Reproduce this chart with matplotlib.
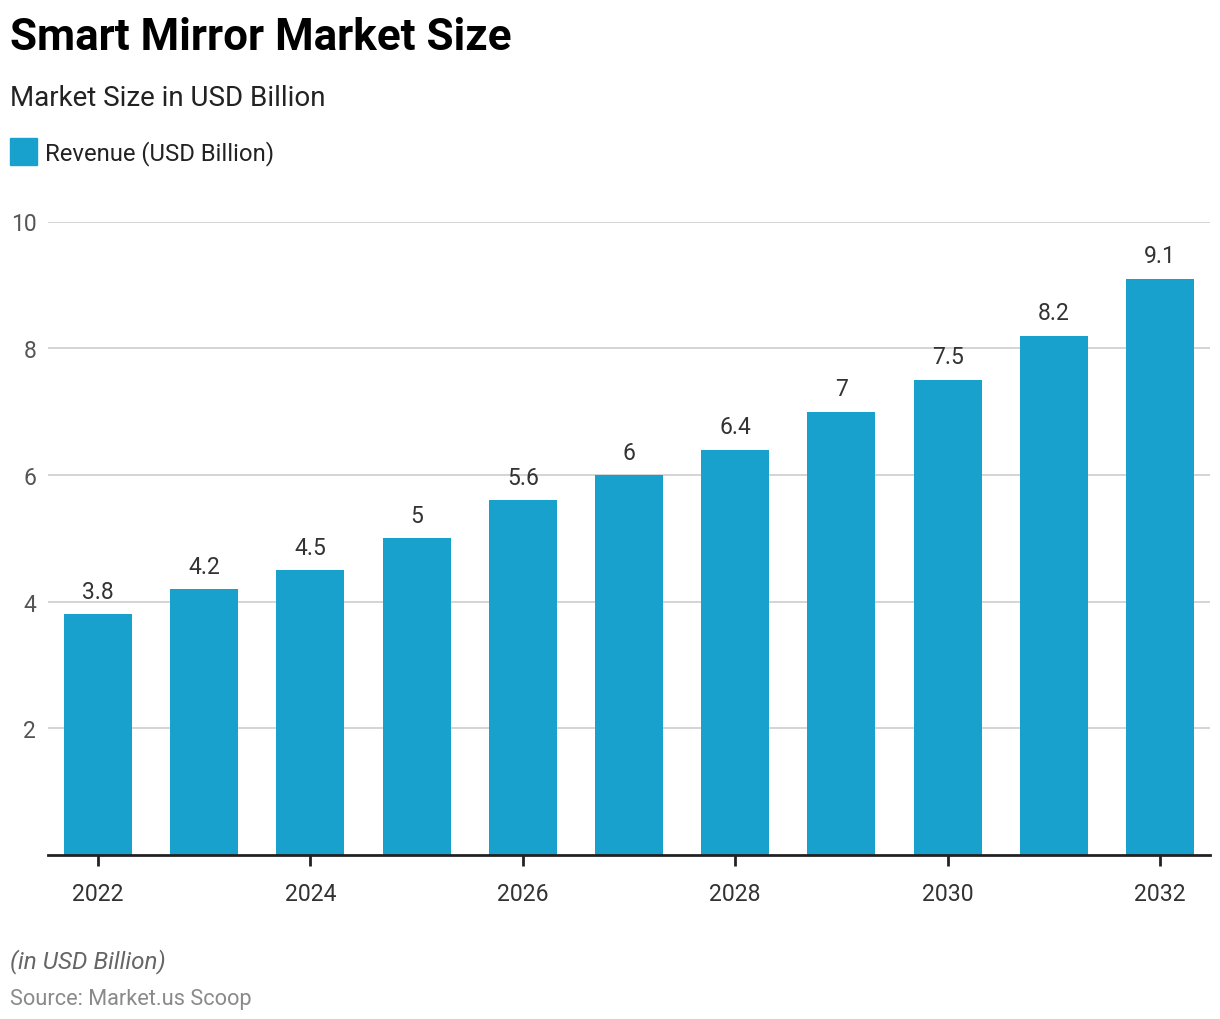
import matplotlib
matplotlib.use("Agg")
import matplotlib.pyplot as plt
from matplotlib.patches import Rectangle

plt.rcParams['font.family'] = ['Roboto', 'DejaVu Sans']

years = [2022, 2023, 2024, 2025, 2026, 2027, 2028, 2029, 2030, 2031, 2032]
revenue = [3.8, 4.2, 4.5, 5.0, 5.6, 6.0, 6.4, 7.0, 7.5, 8.2, 9.1]
value_labels = ["3.8", "4.2", "4.5", "5", "5.6", "6", "6.4", "7", "7.5", "8.2", "9.1"]
xtick_years = [2022, 2024, 2026, 2028, 2030, 2032]
yticks = [2, 4, 6, 8, 10]

title = "Smart Mirror Market Size"
subtitle = "Market Size in USD Billion"
legend_label = "Revenue (USD Billion)"
note = "(in USD Billion)"
source = "Source: Market.us Scoop"

BAR = "#19A1CD"
W, H = 1220, 1020
fig = plt.figure(figsize=(W / 100, H / 100), dpi=100)

ax = fig.add_axes([48 / W, 1 - 856 / H, (1210 - 48) / W, (856 - 222.5) / H])
ax.bar(years, revenue, width=0.64, color=BAR, zorder=3)
ax.set_xlim(2022 - 0.47, 2032 + 0.47)
ax.set_ylim(0, 10)
ax.set_yticks(yticks)
ax.set_yticklabels([str(v) for v in yticks])
ax.set_xticks(xtick_years)
ax.set_xticklabels([str(v) for v in xtick_years])
ax.grid(axis='y', color='#d4d4d4', linewidth=1.4, zorder=0)
for s in ['top', 'right', 'left']:
    ax.spines[s].set_visible(False)
ax.spines['bottom'].set_color('#222222')
ax.spines['bottom'].set_linewidth(2)
ax.spines['bottom'].set_zorder(4)
ax.tick_params(axis='y', length=0, pad=8.5, labelsize=16.5, labelcolor='#555555')
ax.tick_params(axis='x', length=8, width=2, color='#222222', pad=11.5,
               labelsize=16.6, labelcolor='#333333')

for x, v, t in zip(years, revenue, value_labels):
    ax.annotate(t, (x, v), xytext=(0, 8.2), textcoords='offset points',
                ha='center', va='bottom', fontsize=16.5, color='#333333')

fig.text(10 / W, 1 - 38.5 / H, title, fontsize=31.7, fontweight='bold',
         color='#000000', va='center', ha='left')
fig.text(10 / W, 1 - 99 / H, subtitle, fontsize=20, color='#222222',
         va='center', ha='left')
fig.patches.append(Rectangle((10 / W, 1 - 166 / H), 27 / W, 27 / H,
                             transform=fig.transFigure, color=BAR, figure=fig))
fig.text(45 / W, 1 - 154 / H, legend_label, fontsize=17.2, color='#222222',
         va='center', ha='left')
fig.text(10 / W, 1 - 962 / H, note, fontsize=17.5, style='italic',
         color='#666666', va='center', ha='left')
fig.text(10 / W, 1 - 999.5 / H, source, fontsize=15.7, color='#8a8a8a',
         va='center', ha='left')

fig.savefig("out.png", dpi=100, facecolor='white')
